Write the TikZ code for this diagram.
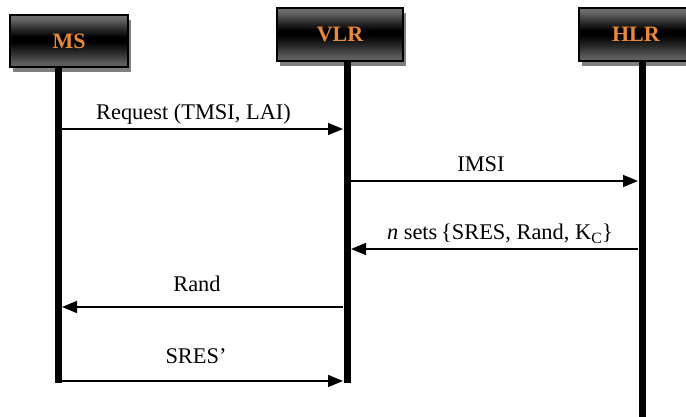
\documentclass[tikz,border=0pt]{standalone}
\usepackage{fontspec}
\setmainfont{Liberation Serif}
\usetikzlibrary{arrows.meta,shadows}
\definecolor{labelorange}{HTML}{E8893A}
\definecolor{shadowgrey}{HTML}{7F7F7F}
% dark metallic band: grey at top and bottom, black across the middle
\pgfdeclareverticalshading{entityshade}{100bp}{%
  color(0bp)=(black!62); color(25bp)=(black!62); color(29bp)=(black!64);
  color(40bp)=(black!85); color(49bp)=(black); color(54bp)=(black);
  color(62bp)=(black!82); color(71bp)=(black!60); color(75bp)=(black!56);
  color(100bp)=(black!56)}
\tikzset{
  entity/.style={draw=black, line width=2.4pt, inner sep=0pt, shading=entityshade,
    drop shadow={shadow xshift=3pt, shadow yshift=-5pt, fill=shadowgrey, opacity=1},
    font=\fontsize{22}{26}\selectfont\bfseries, text=labelorange},
  lifeline/.style={line width=7pt, black},
  message/.style={line width=1.6pt, -{Triangle[length=15pt,width=12pt]}},
  msglabel/.style={anchor=base, inner sep=0pt, font=\fontsize{22.4}{26}\selectfont}
}
\begin{document}
\begin{tikzpicture}[x=1pt,y=-1pt]
  \clip (0,0) rectangle (686,417);
  \fill[white] (0,0) rectangle (686,417);

  % entities
  \node[entity, minimum width=118pt, minimum height=52pt] (ms)  at (69,41)   {MS};
  \node[entity, minimum width=126pt, minimum height=53pt] (vlr) at (340,34.5) {VLR};
  \node[entity, minimum width=126pt, minimum height=53pt, text width=112pt, align=left]
        (hlr) at (642,34.5) {\hspace*{26pt}HLR};

  % lifeline ends
  \coordinate (msT)  at (58.5,67);  \coordinate (msB)  at (58.5,383);
  \coordinate (vlrT) at (347,61);   \coordinate (vlrB) at (347,383);
  \coordinate (hlrT) at (642,61);   \coordinate (hlrB) at (642,420);
  \draw[lifeline] (msT) -- (msB);
  \draw[lifeline] (vlrT) -- (vlrB);
  \draw[lifeline] (hlrT) -- (hlrB);

  % message end points on the lifelines
  \coordinate (r1a) at (62,129);  \coordinate (r1b) at (343,129);
  \coordinate (r2a) at (351,181); \coordinate (r2b) at (638,181);
  \coordinate (r3a) at (638,249); \coordinate (r3b) at (351,249);
  \coordinate (r4a) at (343,307); \coordinate (r4b) at (62,307);
  \coordinate (r5a) at (62,381);  \coordinate (r5b) at (343,381);

  \draw[message] (r1a) -- (r1b);
  \draw[message] (r2a) -- (r2b);
  \draw[message] (r3a) -- (r3b);
  \draw[message] (r4a) -- (r4b);
  \draw[message] (r5a) -- (r5b);

  % message labels
  \node[msglabel] (l1) at (193.5,120) {Request (TMSI, LAI)};
  \node[msglabel] (l2) at (481,172)   {IMSI};
  \node[msglabel] (l3) at (500,240)   {\textit{n} sets\,\{SRES, Rand, K\textsubscript{C}\}};
  \node[msglabel] (l4) at (197,291)   {Rand};
  \node[msglabel] (l5) at (196,363)   {SRES’};
\end{tikzpicture}
\end{document}
